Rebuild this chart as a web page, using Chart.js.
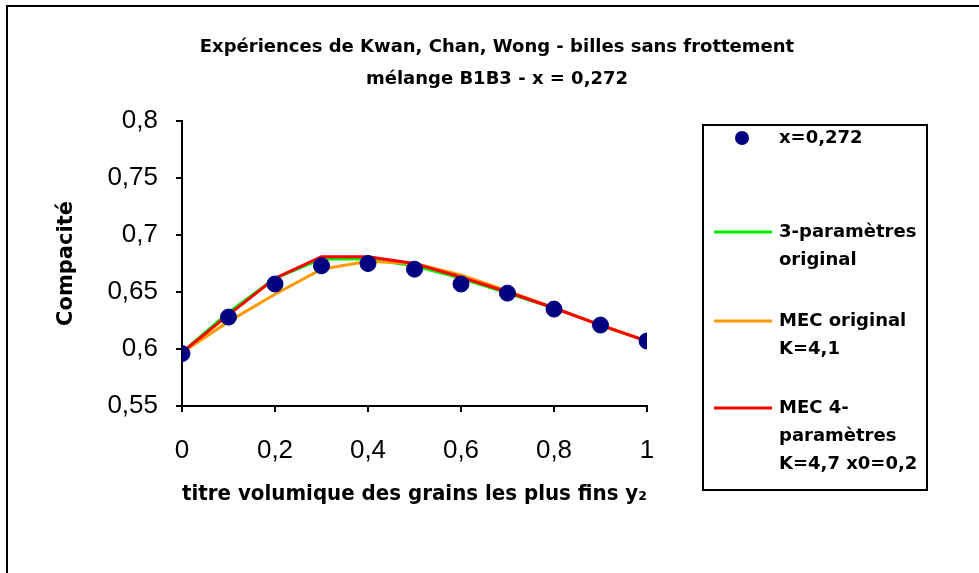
<!DOCTYPE html>
<html>
<head>
<meta charset="utf-8">
<script src="https://cdn.jsdelivr.net/npm/chart.js@4"></script>
<style>
  html, body { margin: 0; padding: 0; background: #fff; }
</style>
</head>
<body>
<canvas id="chart" width="979" height="573"></canvas>
<script>
// titre et libellés
const titleLines = ["Expériences de Kwan, Chan, Wong - billes sans frottement", "mélange B1B3 - x = 0,272"];
const xTitle = "titre volumique des grains les plus fins y₂";
const yTitle = "Compacité";

// titre volumique y2
const y2 = [0, 0.1, 0.2, 0.3, 0.4, 0.5, 0.6, 0.7, 0.8, 0.9, 1];

// mesures x=0,272
const mesures = [0.596, 0.628, 0.657, 0.673, 0.675, 0.670, 0.657, 0.649, 0.635, 0.621, 0.607];
// modèles
const troisParam = [0.597, 0.632, 0.662, 0.679, 0.679, 0.673, 0.662, 0.649, 0.636, 0.621, 0.607];
const mecOriginal = [0.597, 0.624, 0.648, 0.670, 0.677, 0.675, 0.665, 0.651, 0.636, 0.621, 0.607];
const mec4Param = [0.597, 0.630, 0.662, 0.681, 0.681, 0.675, 0.663, 0.650, 0.636, 0.621, 0.607];

const legendLabels = [
  ["x=0,272"],
  ["3-paramètres", "original"],
  ["MEC original", "K=4,1"],
  ["MEC 4-", "paramètres", "K=4,7 x0=0,2"]
];

const comic = '"Comic Sans MS", "DejaVu Sans", sans-serif';
const arial = '"Liberation Sans", Arial, sans-serif';
const toPts = (ys) => ys.map((v, i) => ({ x: y2[i], y: v }));
const virgule = (v) => String(Number(v.toFixed(2))).replace(".", ",");

// cadre, titre et légende dessinés à la main
const decor = {
  id: "decor",
  afterDraw(chart) {
    const ctx = chart.ctx;
    ctx.save();
    // cadre extérieur
    ctx.strokeStyle = "#000";
    ctx.lineWidth = 2;
    ctx.beginPath();
    ctx.moveTo(7, 573);
    ctx.lineTo(7, 6);
    ctx.lineTo(979, 6);
    ctx.stroke();

    // titre
    ctx.fillStyle = "#000";
    ctx.font = "bold 18px " + comic;
    ctx.textAlign = "center";
    ctx.textBaseline = "middle";
    ctx.fillText(titleLines[0], 497, 47);
    ctx.fillText(titleLines[1], 497, 79);

    // légende
    ctx.strokeRect(703, 125, 224, 365);
    const rows = [138, 232, 321, 408];
    const ds = chart.data.datasets;
    ctx.textAlign = "left";
    ctx.font = "bold 18px " + comic;
    legendLabels.forEach((lines, i) => {
      const y = rows[i];
      const d = ds[i];
      if (i === 0) {
        ctx.fillStyle = d.backgroundColor;
        ctx.beginPath();
        ctx.arc(742, y, 7, 0, Math.PI * 2);
        ctx.fill();
      } else {
        ctx.strokeStyle = d.borderColor;
        ctx.lineWidth = 3;
        ctx.beginPath();
        ctx.moveTo(714, y);
        ctx.lineTo(772, y);
        ctx.stroke();
      }
      ctx.fillStyle = "#000";
      lines.forEach((t, j) => ctx.fillText(t, 779, y + j * 28));
    });
    ctx.restore();
  }
};

new Chart(document.getElementById("chart"), {
  type: "line",
  data: {
    datasets: [
      {
        label: "x=0,272",
        data: toPts(mesures),
        showLine: false,
        backgroundColor: "#000080",
        borderColor: "#000080",
        pointRadius: 8,
        pointHoverRadius: 8,
        order: 0,
      },
      {
        label: "3-paramètres original",
        data: toPts(troisParam),
        borderColor: "#00ee00",
        borderWidth: 3,
        pointRadius: 0,
        tension: 0,
        order: 3,
      },
      {
        label: "MEC original K=4,1",
        data: toPts(mecOriginal),
        borderColor: "#ff9900",
        borderWidth: 3,
        pointRadius: 0,
        tension: 0,
        order: 2,
      },
      {
        label: "MEC 4-paramètres K=4,7 x0=0,2",
        data: toPts(mec4Param),
        borderColor: "#ff0000",
        borderWidth: 3,
        pointRadius: 0,
        tension: 0,
        order: 1,
      },
    ],
  },
  options: {
    responsive: false,
    animation: false,
    events: [],
    layout: { padding: { top: 121, left: 30, right: 332, bottom: 0 } },
    plugins: {
      legend: { display: false },
      title: { display: false },
      tooltip: { enabled: false },
    },
    scales: {
      x: {
        type: "linear",
        min: 0,
        max: 1,
        afterFit: (s) => { s.height = 167; },
        ticks: {
          stepSize: 0.2,
          color: "#000",
          padding: 23,
          font: { family: arial, size: 26 },
          callback: (v) => virgule(v),
        },
        grid: { drawOnChartArea: false, color: "#000", lineWidth: 2, tickLength: 6 },
        border: { color: "#000", width: 2 },
        title: {
          display: true,
          text: xTitle,
          color: "#000",
          font: { family: comic, size: 22, weight: "bold" },
          padding: { top: 0, bottom: 66 },
        },
      },
      y: {
        min: 0.55,
        max: 0.8,
        afterFit: (s) => { s.width = 152; },
        ticks: {
          stepSize: 0.05,
          color: "#000",
          padding: 18,
          font: { family: arial, size: 26 },
          callback: (v) => virgule(v),
        },
        grid: { drawOnChartArea: false, color: "#000", lineWidth: 2, tickLength: 6 },
        border: { color: "#000", width: 2 },
        title: {
          display: true,
          text: yTitle,
          color: "#000",
          font: { family: comic, size: 21, weight: "bold" },
          padding: { top: 24, bottom: 0 },
        },
      },
    },
  },
  plugins: [decor],
});
</script>
</body>
</html>
